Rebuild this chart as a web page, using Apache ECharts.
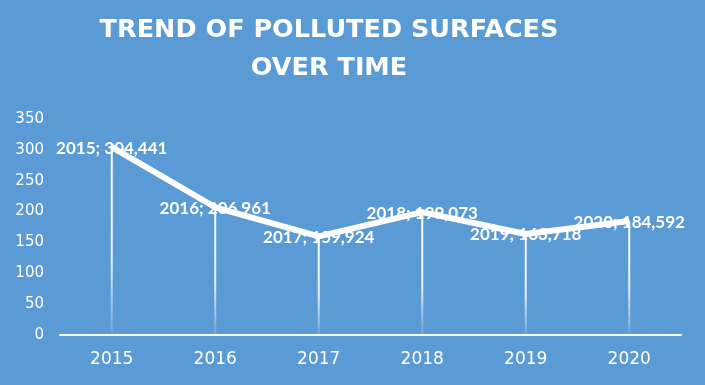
<!DOCTYPE html>
<html><head><meta charset="utf-8">
<script src="https://cdn.jsdelivr.net/npm/echarts@6/dist/echarts.min.js"></script>
<style>html,body{margin:0;padding:0;background:#5b9bd5;}#c{width:705px;height:385px;}</style>
</head><body><div id="c"></div>
<script>
var categories = ['2015','2016','2017','2018','2019','2020'];
var values = [304.441, 206.961, 159.924, 199.073, 163.718, 184.592];
var yTicks = [0, 50, 100, 150, 200, 250, 300, 350];
var titleText = 'TREND OF POLLUTED SURFACES\nOVER TIME';

function fmt(v){ return v.toFixed(3).replace('.', ','); }

var chart = echarts.init(document.getElementById('c'));
chart.setOption({
  backgroundColor: '#5b9bd5',
  animation: false,
  title: {
    text: titleText,
    left: 324, top: 6, textAlign: 'center',
    textStyle: { color: '#fff', fontFamily: 'DejaVu Sans', fontWeight: 'bold', fontSize: 25.5, lineHeight: 38 }
  },
  grid: { left: 60, right: 24, top: 119, bottom: 50 },
  xAxis: {
    type: 'category', data: categories, boundaryGap: true,
    axisLine: { lineStyle: { color: '#fff', width: 2 } },
    axisTick: { show: false },
    axisLabel: { color: '#fff', fontFamily: 'DejaVu Sans', fontSize: 17, margin: 16 }
  },
  yAxis: {
    type: 'value', min: yTicks[0], max: yTicks[yTicks.length-1], interval: 50,
    axisLine: { show: false }, axisTick: { show: false }, splitLine: { show: false },
    axisLabel: { color: '#fff', fontFamily: 'DejaVu Sans', fontSize: 15, margin: 16 }
  },
  series: [
    {
      type: 'bar', data: values, barWidth: 2, silent: true, z: 1,
      itemStyle: { color: new echarts.graphic.LinearGradient(0,0,0,1,[
        {offset:0,color:'rgba(255,255,255,1)'},
        {offset:0.6,color:'rgba(255,255,255,0.85)'},
        {offset:1,color:'rgba(255,255,255,0.1)'}]) }
    },
    {
      type: 'line', data: values, symbol: 'circle', symbolSize: 1, showSymbol: true, z: 3,
      itemStyle: { color: '#fff' },
      lineStyle: { color: '#fff', width: 6 },
      label: {
        show: true, position: 'top', distance: 0, color: '#fff', fontFamily: 'Lato', fontWeight: 'bold', fontSize: 17,
        formatter: function(p){ return categories[p.dataIndex] + '; ' + fmt(p.value); }
      },
      labelLayout: { hideOverlap: false, dy: 10 }
    }
  ]
});
</script></body></html>
